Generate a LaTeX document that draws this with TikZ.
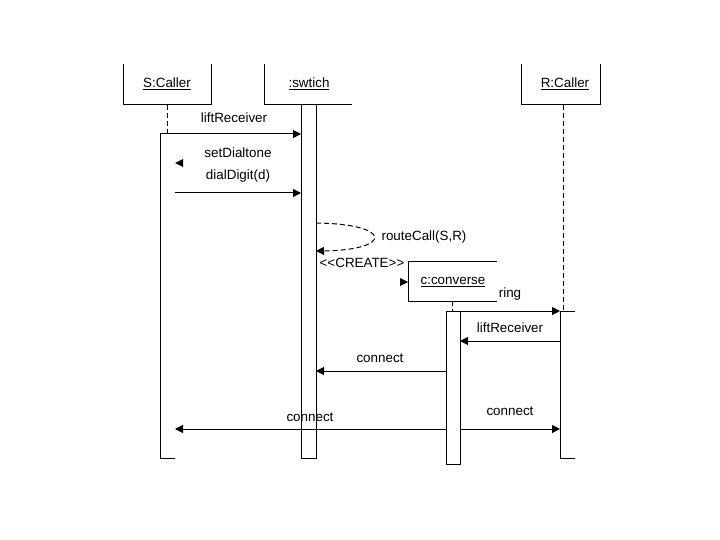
\documentclass[tikz,border=0pt]{standalone}
\usepackage{fontspec}
\setmainfont{Liberation Sans}
\usetikzlibrary{arrows.meta}
\begin{document}
\begin{tikzpicture}[x=1pt,y=-1pt,
  lbl/.style={font=\fontsize{13.4}{15}\selectfont, inner sep=0pt},
  ln/.style={line width=1pt},
  msg/.style={ln, -{Triangle[length=8pt,width=8pt]}},
  life/.style={ln, dash pattern=on 5pt off 3pt},
  tip/.style={fill=black}]
\useasboundingbox (0,0) rectangle (720,540);
\fill[white] (0,0) rectangle (720,540);

% object headers
\node[lbl] (sc) at (167,84) {\underline{S:Caller}};
\node[lbl] (sw) at (309,84) {\underline{:swtich}};
\node[lbl] (rc) at (565,84) {\underline{R:Caller}};
\draw[ln] (123,64) -- (123,105) -- (211,105) -- (211,64);
\draw[ln] (264,64) -- (264,105) -- (352,105);
\draw[ln] (521,64) -- (521,105) -- (600,105) -- (600,64);

% lifelines and activations
\coordinate (sL0) at (167,105); \coordinate (sL1) at (167,134);
\draw[life] (sL0) -- (sL1);
\draw[ln] (160,134) -- (160,458) -- (175,458);
\draw[ln] (301,105) rectangle (316,458);
\coordinate (rL0) at (563,105); \coordinate (rL1) at (563,311);
\draw[life] (rL0) -- (rL1);
\draw[ln] (575,311) -- (560,311) -- (560,458) -- (575,458);

% c:converse
\draw[ln] (497,261) -- (408,261) -- (408,301) -- (497,301);
\node[lbl] (cc) at (453,282) {\underline{c:converse}};
\coordinate (cL0) at (452,301); \coordinate (cL1) at (452,311);
\draw[life] (cL0) -- (cL1);
\draw[ln] (446,311) rectangle (460,464);

% message endpoints
\coordinate (a1) at (160,134); \coordinate (b1) at (301,134);
\coordinate (a3) at (175,193); \coordinate (b3) at (301,193);
\coordinate (a4) at (316,223); \coordinate (b4) at (316,251);
\coordinate (a5) at (446,311); \coordinate (b5) at (560,311);
\coordinate (a6) at (560,341); \coordinate (b6) at (460,341);
\coordinate (a7) at (446,371); \coordinate (b7) at (316,371);
\coordinate (a8) at (446,429); \coordinate (b8) at (175,429);
\coordinate (a9) at (460,429); \coordinate (b9) at (560,429);

\draw[msg] (a1) -- (b1);
\fill[tip] (175,163) -- (183,159) -- (183,167) -- cycle;
\draw[msg] (a3) -- (b3);
\draw[msg, dash pattern=on 5pt off 3pt] (a4) .. controls (393,224) and (393,250) .. (b4);
\fill[tip] (408,282) -- (400,278) -- (400,286) -- cycle;
\draw[msg] (a5) -- (b5);
\draw[msg] (a6) -- (b6);
\draw[msg] (a7) -- (b7);
\draw[msg] (a8) -- (b8);
\draw[msg] (a9) -- (b9);

% labels
\node[lbl] (l1) at (234,118) {liftReceiver};
\node[lbl] (l2) at (238,153) {setDialtone};
\node[lbl] (l3) at (238,176) {dialDigit(d)};
\node[lbl] (l4) at (424,237) {routeCall(S,R)};
\node[lbl] (l5) at (362,263) {{<}{<}CREATE{>}{>}};
\node[lbl] (l6) at (510,294) {ring};
\node[lbl] (l7) at (510,328) {liftReceiver};
\node[lbl] (l8) at (380,358) {connect};
\node[lbl] (l9) at (310,417) {connect};
\node[lbl] (l10) at (510,411) {connect};
\end{tikzpicture}
\end{document}
